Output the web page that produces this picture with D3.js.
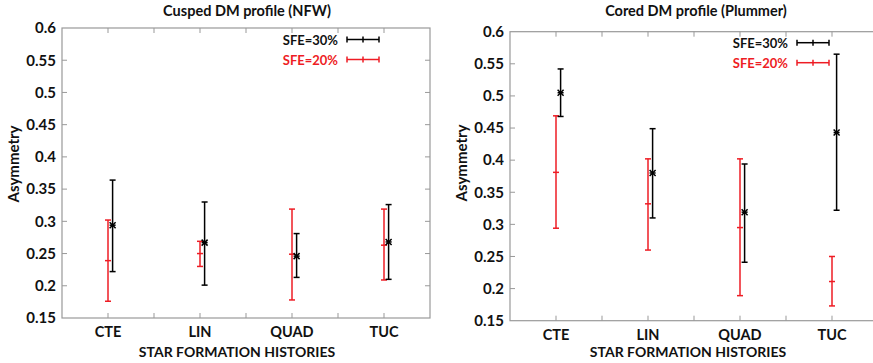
<!DOCTYPE html>
<html>
<head>
<meta charset="utf-8">
<script src="https://cdn.jsdelivr.net/npm/d3@7"></script>
<style>
  body { margin: 0; background: #fff; }
  svg text { font-family: Lato, "Open Sans", sans-serif; font-weight: bold; }
</style>
</head>
<body>
<div id="chart"></div>
<script>
// categories and tick labels
const categories = ["CTE", "LIN", "QUAD", "TUC"]
const yTicks = [0.15, 0.2, 0.25, 0.3, 0.35, 0.4, 0.45, 0.5, 0.55, 0.6]

// cusped (NFW) - SFE=30%
const nfw30Mid = [0.294, 0.267, 0.246, 0.268]
const nfw30Lo = [0.222, 0.201, 0.213, 0.210]
const nfw30Hi = [0.364, 0.330, 0.281, 0.326]
// cusped (NFW) - SFE=20%
const nfw20Mid = [0.239, 0.250, 0.249, 0.263]
const nfw20Lo = [0.176, 0.230, 0.178, 0.209]
const nfw20Hi = [0.302, 0.269, 0.319, 0.319]

// cored (Plummer) - SFE=30%
const plu30Mid = [0.505, 0.380, 0.319, 0.443]
const plu30Lo = [0.468, 0.310, 0.241, 0.322]
const plu30Hi = [0.542, 0.449, 0.394, 0.565]
// cored (Plummer) - SFE=20%
const plu20Mid = [0.381, 0.332, 0.295, 0.211]
const plu20Lo = [0.294, 0.260, 0.189, 0.173]
const plu20Hi = [0.469, 0.402, 0.402, 0.250]

const width = 873, height = 363
const svg = d3.select("#chart").append("svg")
    .attr("width", width)
    .attr("height", height)

const RED = "#ee1c24"
const FRAME = "#999"

function drawPanel(opt) {
    const g = svg.append("g")
    const x = d3.scaleLinear().domain([0, 8]).range([opt.left, opt.right])
    const y = d3.scaleLinear().domain([0.15, 0.6]).range([opt.bottom, opt.top])

    // frame
    g.append("rect")
        .attr("x", opt.left).attr("y", opt.top)
        .attr("width", opt.right - opt.left)
        .attr("height", opt.bottom - opt.top)
        .attr("fill", "none").attr("stroke", FRAME).attr("stroke-width", 1.2)

    // y axis with inward ticks on both sides
    const yAxis = g.append("g")
        .attr("transform", "translate(" + opt.left + ",0)")
        .call(d3.axisLeft(y).tickValues(yTicks).tickSize(0).tickPadding(6)
            .tickFormat(d => d3.format("")(+d.toFixed(2))))
    yAxis.select(".domain").remove()
    yAxis.selectAll("text").attr("font-size", 15).attr("fill", "#111")

    g.selectAll(".ytl").data(yTicks.slice(1, -1)).enter().append("line")
        .attr("x1", opt.left).attr("x2", opt.left + 5)
        .attr("y1", d => y(d)).attr("y2", d => y(d))
        .attr("stroke", FRAME)
    g.selectAll(".ytr").data(yTicks.slice(1, -1)).enter().append("line")
        .attr("x1", opt.right).attr("x2", opt.right - 5)
        .attr("y1", d => y(d)).attr("y2", d => y(d))
        .attr("stroke", FRAME)

    // x ticks at each integer, labels at categories
    const xt = d3.range(1, 8)
    g.selectAll(".xtb").data(xt).enter().append("line")
        .attr("x1", d => x(d)).attr("x2", d => x(d))
        .attr("y1", opt.bottom).attr("y2", opt.bottom - 5)
        .attr("stroke", FRAME)
    g.selectAll(".xtt").data(xt).enter().append("line")
        .attr("x1", d => x(d)).attr("x2", d => x(d))
        .attr("y1", opt.top).attr("y2", opt.top + 5)
        .attr("stroke", FRAME)
    g.selectAll(".xl").data(categories).enter().append("text")
        .attr("x", (d, i) => x(2 * i + 1))
        .attr("y", opt.bottom + 19)
        .attr("text-anchor", "middle")
        .attr("font-size", 14.5).attr("fill", "#111")
        .text(d => d)

    // titles
    g.append("text")
        .attr("x", opt.titleX).attr("y", 16)
        .attr("text-anchor", "middle").attr("font-size", 14.5).attr("fill", "#111")
        .text(opt.title)
    g.append("text")
        .attr("x", opt.xlabelX).attr("y", opt.xlabelY)
        .attr("text-anchor", "middle").attr("font-size", 14).attr("fill", "#111")
        .text("STAR FORMATION HISTORIES")
    g.append("text")
        .attr("transform", "translate(" + opt.ylabelX + "," + opt.ylabelY + ") rotate(-90)")
        .attr("text-anchor", "middle").attr("font-size", 15).attr("fill", "#111")
        .text("Asymmetry")

    // error bars
    function bars(mid, lo, hi, off, color, cross) {
        const data = mid.map((m, i) => ({ x: 2 * i + 1 + off, m: m, lo: lo[i], hi: hi[i] }))
        const s = g.append("g").attr("stroke", color).attr("stroke-width", 1.5)
        s.selectAll(".v").data(data).enter().append("line")
            .attr("x1", d => x(d.x)).attr("x2", d => x(d.x))
            .attr("y1", d => y(d.lo)).attr("y2", d => y(d.hi))
        s.selectAll(".ch").data(data).enter().append("line")
            .attr("x1", d => x(d.x) - 3).attr("x2", d => x(d.x) + 3)
            .attr("y1", d => y(d.hi)).attr("y2", d => y(d.hi))
        s.selectAll(".cl").data(data).enter().append("line")
            .attr("x1", d => x(d.x) - 3).attr("x2", d => x(d.x) + 3)
            .attr("y1", d => y(d.lo)).attr("y2", d => y(d.lo))
        s.selectAll(".cm").data(data).enter().append("line")
            .attr("x1", d => x(d.x) - 3).attr("x2", d => x(d.x) + 3)
            .attr("y1", d => y(d.m)).attr("y2", d => y(d.m))
        if (cross) {
            s.selectAll(".xa").data(data).enter().append("path")
                .attr("d", d => {
                    const cx = x(d.x), cy = y(d.m)
                    return "M" + (cx - 3) + "," + (cy - 3) + "L" + (cx + 3) + "," + (cy + 3) +
                        "M" + (cx - 3) + "," + (cy + 3) + "L" + (cx + 3) + "," + (cy - 3)
                })
        }
    }
    bars(opt.r.mid, opt.r.lo, opt.r.hi, 0, RED, false)
    bars(opt.k.mid, opt.k.lo, opt.k.hi, 0.1, "#000", true)

    // legend
    const leg = [{ label: "SFE=30%", color: "#000", y: opt.legY }, { label: "SFE=20%", color: RED, y: opt.legY + 20 }]
    leg.forEach(l => {
        g.append("text")
            .attr("x", opt.legX).attr("y", l.y + 5)
            .attr("text-anchor", "end").attr("font-size", 13)
            .attr("fill", l.color === "#000" ? "#111" : RED)
            .text(l.label)
        const lg = g.append("g").attr("stroke", l.color).attr("stroke-width", 1.5)
        const x0 = opt.legX + 9, x1 = opt.legX + 41
        lg.append("line").attr("x1", x0).attr("x2", x1).attr("y1", l.y).attr("y2", l.y)
        lg.append("line").attr("x1", x0).attr("x2", x0).attr("y1", l.y - 3).attr("y2", l.y + 3)
        lg.append("line").attr("x1", x1).attr("x2", x1).attr("y1", l.y - 3).attr("y2", l.y + 3)
        lg.append("line").attr("x1", (x0 + x1) / 2).attr("x2", (x0 + x1) / 2).attr("y1", l.y - 3).attr("y2", l.y + 3)
    })
}

drawPanel({
    left: 62, right: 430, top: 28, bottom: 318,
    title: "Cusped DM profile (NFW)", titleX: 247,
    xlabelX: 237, xlabelY: 357, ylabelX: 19, ylabelY: 164,
    legX: 338, legY: 39.5,
    k: { mid: nfw30Mid, lo: nfw30Lo, hi: nfw30Hi },
    r: { mid: nfw20Mid, lo: nfw20Lo, hi: nfw20Hi }
})
drawPanel({
    left: 510, right: 878, top: 31.7, bottom: 320.7,
    title: "Cored DM profile (Plummer)", titleX: 696,
    xlabelX: 688, xlabelY: 356.5, ylabelX: 467, ylabelY: 163,
    legX: 788, legY: 42.7,
    k: { mid: plu30Mid, lo: plu30Lo, hi: plu30Hi },
    r: { mid: plu20Mid, lo: plu20Lo, hi: plu20Hi }
})
</script>
</body>
</html>
